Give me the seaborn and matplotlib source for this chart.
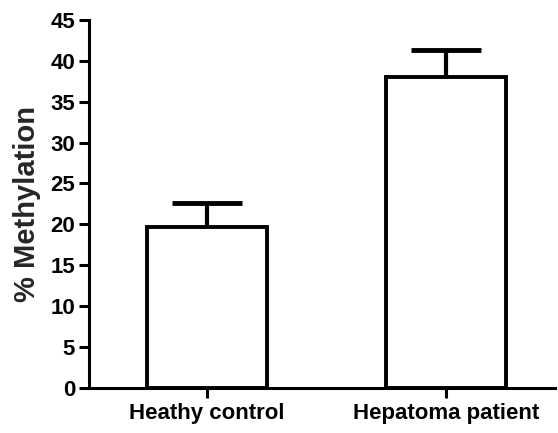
import matplotlib
matplotlib.use('Agg')
import matplotlib.pyplot as plt
import seaborn as sns
import pandas as pd

# Data
groups = ['Heathy control', 'Hepatoma patient']
methylation = [19.7, 38.0]
sem = [2.9, 3.3]

df = pd.DataFrame({'Group': groups, 'Methylation': methylation})

sns.set_style('ticks')
plt.rcParams['font.family'] = ['Liberation Sans', 'DejaVu Sans']
plt.rcParams['font.weight'] = 'bold'

fig = plt.figure(figsize=(5.58, 4.33), dpi=100)
ax = fig.add_axes([0.1595, 0.104, 0.835, 0.85])

sns.barplot(data=df, x='Group', y='Methylation', color='white',
            edgecolor='black', linewidth=2.8, width=0.5, errorbar=None, ax=ax)

# upper error bars only
eb = ax.errorbar(range(len(groups)), methylation, yerr=[[0] * len(sem), sem],
                 fmt='none', ecolor='black', elinewidth=3, capsize=25,
                 capthick=3.5, zorder=1)
eb[1][0].set_visible(False)  # hide the lower cap at the bar top

ax.set_xlim(-0.494, 1.456)
ax.set_ylim(0, 45)
ax.set_yticks(range(0, 46, 5))
ax.set_xlabel('')
ax.set_ylabel('% Methylation', fontsize=21, fontweight='bold', labelpad=7)

sns.despine(ax=ax)
for side in ['left', 'bottom']:
    ax.spines[side].set_linewidth(2.2)
    ax.spines[side].set_color('black')
ax.tick_params(axis='both', width=2.2, length=7, color='black',
               labelsize=16, labelcolor='black')
ax.tick_params(axis='y', pad=3)
ax.tick_params(axis='x', pad=4)
for lbl in ax.get_xticklabels() + ax.get_yticklabels():
    lbl.set_fontweight('bold')

fig.savefig('out.png', dpi=100)
